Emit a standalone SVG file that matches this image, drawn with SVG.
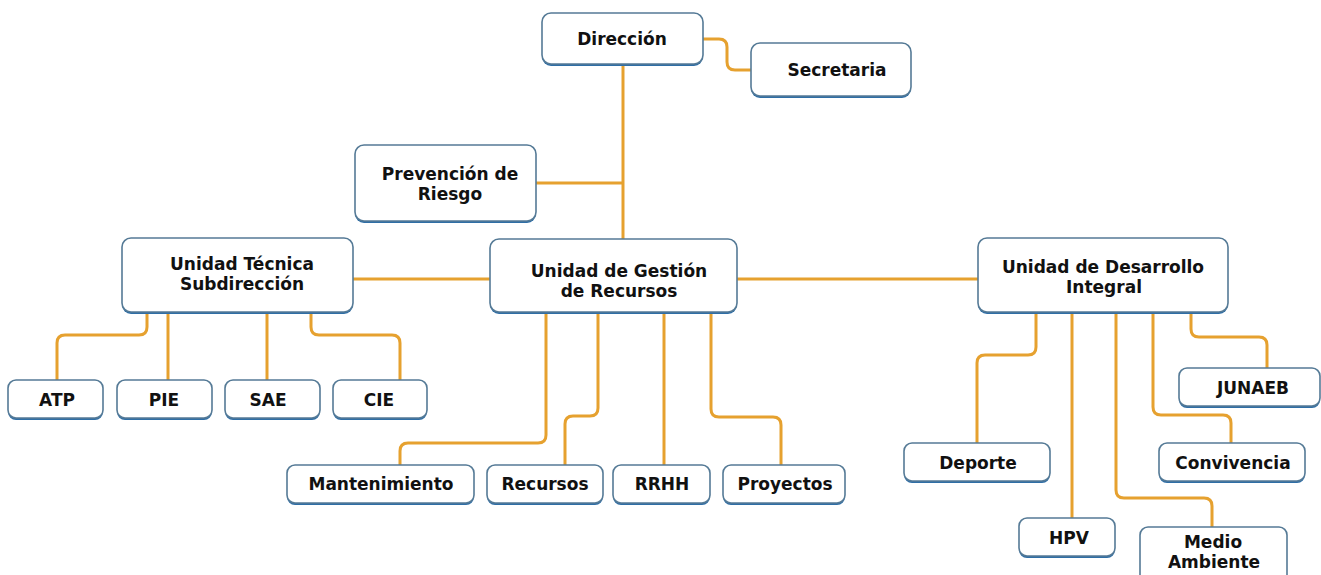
<svg xmlns="http://www.w3.org/2000/svg" width="1321" height="575" viewBox="0 0 1321 575">
<defs>
<style>
.box{fill:#ffffff;stroke:#557a96;stroke-width:1.6}
.sh{fill:#2f6ea6}
.t{font-family:"DejaVu Sans","Liberation Sans",sans-serif;font-weight:bold;font-size:17px;fill:#111111;text-anchor:middle}
.c{fill:none;stroke:#e6a12f;stroke-width:3;stroke-linecap:butt}
</style>
</defs>
<rect width="1321" height="575" fill="#ffffff"/>
<g id="connectors">
<path class="c" d="M703,39 H719 Q727,39 727,47 V62 Q727,70 735,70 H751"/>
<path class="c" d="M623,65 V239"/>
<path class="c" d="M536,183 H623"/>
<path class="c" d="M353,279 H490"/>
<path class="c" d="M737,279 H978"/>
<path class="c" d="M147,313 V327 Q147,335 139,335 H65 Q57,335 57,343 V380"/>
<path class="c" d="M168,313 V380"/>
<path class="c" d="M267,313 V380"/>
<path class="c" d="M311,313 V327 Q311,335 319,335 H392 Q400,335 400,343 V380"/>
<path class="c" d="M546,313 V435 Q546,443 538,443 H408 Q400,443 400,451 V465"/>
<path class="c" d="M598,313 V408 Q598,416 590,416 H573 Q565,416 565,424 V465"/>
<path class="c" d="M664,313 V465"/>
<path class="c" d="M711,313 V409 Q711,417 719,417 H773 Q781,417 781,425 V465"/>
<path class="c" d="M1036,313 V347 Q1036,355 1028,355 H985 Q977,355 977,363 V443"/>
<path class="c" d="M1072,313 V518"/>
<path class="c" d="M1116,313 V490 Q1116,498 1124,498 H1204 Q1212,498 1212,506 V527"/>
<path class="c" d="M1153,313 V407 Q1153,415 1161,415 H1223 Q1231,415 1231,423 V443"/>
<path class="c" d="M1191,313 V329 Q1191,337 1199,337 H1259 Q1267,337 1267,345 V368"/>
</g>
<g id="direccion"><rect class="sh" x="542" y="15" width="161" height="51" rx="9"/><rect class="box" x="542" y="13" width="161" height="51" rx="9"/><text class="t" x="622" y="45">Dirección</text></g>
<g id="secretaria"><rect class="sh" x="751" y="45" width="160" height="53" rx="9"/><rect class="box" x="751" y="43" width="160" height="53" rx="9"/><text class="t" x="837" y="76">Secretaria</text></g>
<g id="prevencion"><rect class="sh" x="355" y="147" width="181" height="76" rx="9"/><rect class="box" x="355" y="145" width="181" height="76" rx="9"/><text class="t" x="450" y="180">Prevención de<tspan x="450" dy="20">Riesgo</tspan></text></g>
<g id="unidad-tecnica"><rect class="sh" x="122" y="240" width="231" height="74" rx="9"/><rect class="box" x="122" y="238" width="231" height="74" rx="9"/><text class="t" x="242" y="270">Unidad Técnica<tspan x="242" dy="20">Subdirección</tspan></text></g>
<g id="unidad-gestion"><rect class="sh" x="490" y="241" width="247" height="73" rx="9"/><rect class="box" x="490" y="239" width="247" height="73" rx="9"/><text class="t" x="619" y="277">Unidad de Gestión<tspan x="619" dy="20">de Recursos</tspan></text></g>
<g id="unidad-desarrollo"><rect class="sh" x="978" y="240" width="250" height="74" rx="9"/><rect class="box" x="978" y="238" width="250" height="74" rx="9"/><text class="t" x="1103" y="273">Unidad de Desarrollo<tspan x="1104" dy="20">Integral</tspan></text></g>
<g id="atp"><rect class="sh" x="8" y="382" width="95" height="38" rx="8"/><rect class="box" x="8" y="380" width="95" height="38" rx="8"/><text class="t" x="57" y="406">ATP</text></g>
<g id="pie"><rect class="sh" x="117" y="382" width="95" height="38" rx="8"/><rect class="box" x="117" y="380" width="95" height="38" rx="8"/><text class="t" x="164" y="406">PIE</text></g>
<g id="sae"><rect class="sh" x="225" y="382" width="95" height="38" rx="8"/><rect class="box" x="225" y="380" width="95" height="38" rx="8"/><text class="t" x="268" y="406">SAE</text></g>
<g id="cie"><rect class="sh" x="333" y="382" width="94" height="38" rx="8"/><rect class="box" x="333" y="380" width="94" height="38" rx="8"/><text class="t" x="379" y="406">CIE</text></g>
<g id="mantenimiento"><rect class="sh" x="287" y="467" width="187" height="38" rx="8"/><rect class="box" x="287" y="465" width="187" height="38" rx="8"/><text class="t" x="381" y="490">Mantenimiento</text></g>
<g id="recursos"><rect class="sh" x="487" y="467" width="116" height="38" rx="8"/><rect class="box" x="487" y="465" width="116" height="38" rx="8"/><text class="t" x="545" y="490">Recursos</text></g>
<g id="rrhh"><rect class="sh" x="613" y="467" width="97" height="38" rx="8"/><rect class="box" x="613" y="465" width="97" height="38" rx="8"/><text class="t" x="662" y="490">RRHH</text></g>
<g id="proyectos"><rect class="sh" x="723" y="467" width="122" height="38" rx="8"/><rect class="box" x="723" y="465" width="122" height="38" rx="8"/><text class="t" x="785" y="490">Proyectos</text></g>
<g id="deporte"><rect class="sh" x="904" y="445" width="146" height="38" rx="8"/><rect class="box" x="904" y="443" width="146" height="38" rx="8"/><text class="t" x="978" y="469">Deporte</text></g>
<g id="convivencia"><rect class="sh" x="1159" y="445" width="146" height="38" rx="8"/><rect class="box" x="1159" y="443" width="146" height="38" rx="8"/><text class="t" x="1233" y="469">Convivencia</text></g>
<g id="junaeb"><rect class="sh" x="1179" y="370" width="141" height="38" rx="8"/><rect class="box" x="1179" y="368" width="141" height="38" rx="8"/><text class="t" x="1253" y="394">JUNAEB</text></g>
<g id="hpv"><rect class="sh" x="1019" y="520" width="96" height="38" rx="8"/><rect class="box" x="1019" y="518" width="96" height="38" rx="8"/><text class="t" x="1069" y="544">HPV</text></g>
<g id="medio-ambiente"><rect class="sh" x="1140" y="529" width="147" height="60" rx="8"/><rect class="box" x="1140" y="527" width="147" height="60" rx="8"/><text class="t" x="1213" y="548">Medio<tspan x="1214" dy="20">Ambiente</tspan></text></g>
</svg>
